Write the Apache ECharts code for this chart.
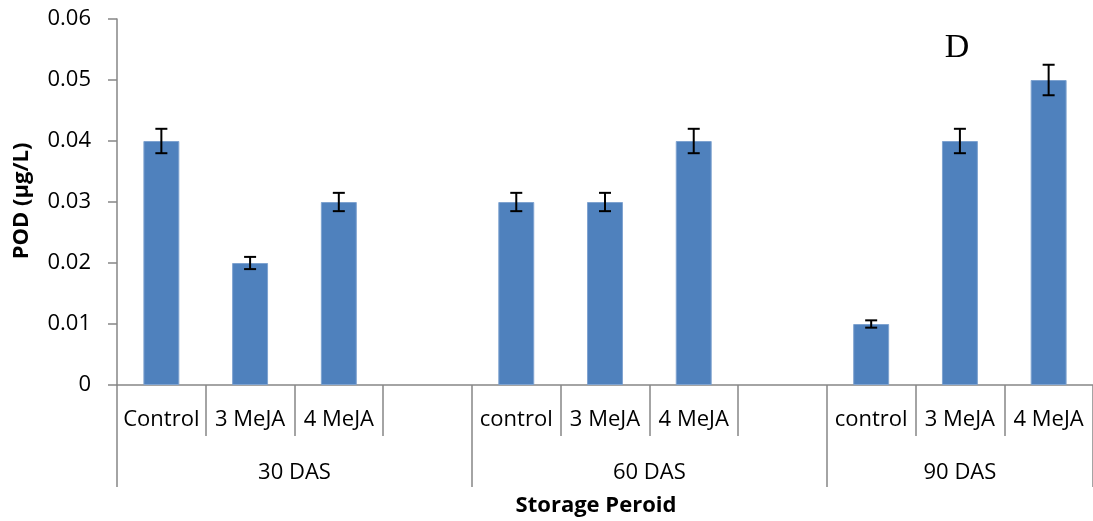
<!DOCTYPE html>
<html>
<head>
<meta charset="utf-8">
<script src="https://cdn.jsdelivr.net/npm/echarts@6/dist/echarts.min.js"></script>
<style>html,body{margin:0;padding:0;background:#fff}#c{width:1093px;height:521px}</style>
</head>
<body>
<div id="c"></div>
<script>
var categories = ['Control', '3 MeJA', '4 MeJA', '', 'control', '3 MeJA', '4 MeJA', '', 'control', '3 MeJA', '4 MeJA'];
var values = [0.04, 0.02, 0.03, null, 0.03, 0.03, 0.04, null, 0.01, 0.04, 0.05];
var errors = [0.002, 0.001, 0.0015, null, 0.0015, 0.0015, 0.002, null, 0.0006, 0.002, 0.0025];
var groups = ['30 DAS', '60 DAS', '90 DAS'];
var groupSpans = [4, 4, 3];
var yTicks = [0, 0.01, 0.02, 0.03, 0.04, 0.05, 0.06];

var groupBounds = [0], groupCenters = [], acc = 0;
groupSpans.forEach(function (s) { groupCenters.push(acc + s / 2); acc += s; groupBounds.push(acc); });

var errData = [];
values.forEach(function (v, i) {
  if (v !== null) errData.push([i, v - errors[i], v + errors[i]]);
});

var FONT = '"Open Sans", sans-serif';
var chart = echarts.init(document.getElementById('c'), null, { renderer: 'canvas' });
chart.setOption({
  animation: false,
  backgroundColor: '#ffffff',
  grid: { left: 117, top: 19, width: 984, height: 366, containLabel: false },
  xAxis: [{
    type: 'category',
    data: categories,
    position: 'bottom',
    axisLine: { show: true, lineStyle: { color: '#868686', width: 1.5 } },
    axisTick: { show: true, interval: 0, length: 51, lineStyle: { color: '#868686', width: 1.5 } },
    axisLabel: { interval: 0, margin: 24, color: '#000', fontSize: 22, fontFamily: FONT },
    splitLine: { show: false }
  }, {
    type: 'value',
    min: 0, max: 11,
    position: 'bottom',
    axisLine: { show: false },
    axisTick: { show: true, customValues: groupBounds, length: 102, lineStyle: { color: '#868686', width: 1.5 } },
    axisLabel: {
      show: true, customValues: groupCenters, margin: 77, color: '#000', fontSize: 22, fontFamily: FONT,
      formatter: function (v) { var i = groupCenters.indexOf(v); return i >= 0 ? groups[i] : ''; }
    },
    splitLine: { show: false }
  }],
  yAxis: {
    type: 'value',
    min: 0, max: 0.06, interval: 0.01,
    axisLine: { show: true, lineStyle: { color: '#868686', width: 1.5 } },
    axisTick: { show: true, length: 9, lineStyle: { color: '#868686', width: 1.5 } },
    axisLabel: {
      margin: 26, color: '#000', fontSize: 22, fontFamily: FONT,
      formatter: function (v) { var best = yTicks.reduce(function (a, b) { return Math.abs(b - v) < Math.abs(a - v) ? b : a; }); return best === 0 ? '0' : best.toFixed(2); }
    },
    splitLine: { show: false }
  },
  series: [{
    type: 'bar',
    data: values,
    barWidth: '40.5%',
    itemStyle: { color: '#4F81BD', borderColor: '#7FA3D0', borderWidth: 1 }
  }, {
    type: 'custom',
    data: errData,
    z: 10,
    renderItem: function (params, api) {
      var x = api.value(0);
      var lo = api.coord([x, api.value(1)]);
      var hi = api.coord([x, api.value(2)]);
      var hw = 6;
      var st = { stroke: '#000', lineWidth: 2 };
      return {
        type: 'group',
        children: [
          { type: 'line', shape: { x1: lo[0], y1: lo[1], x2: hi[0], y2: hi[1] }, style: st },
          { type: 'line', shape: { x1: lo[0] - hw, y1: lo[1], x2: lo[0] + hw, y2: lo[1] }, style: st },
          { type: 'line', shape: { x1: hi[0] - hw, y1: hi[1], x2: hi[0] + hw, y2: hi[1] }, style: st }
        ]
      };
    }
  }],
  graphic: [{
    type: 'text', x: 596, y: 506,
    style: { text: 'Storage Peroid', fill: '#000', font: 'bold 22px ' + FONT, textAlign: 'center', textVerticalAlign: 'middle' }
  }, {
    type: 'text', x: 22, y: 201, rotation: Math.PI / 2,
    style: { text: 'POD (µg/L)', fill: '#000', font: 'bold 22px ' + FONT, textAlign: 'center', textVerticalAlign: 'middle' }
  }, {
    type: 'text', x: 957, y: 48,
    style: { text: 'D', fill: '#000', font: '34px "Liberation Serif", "Times New Roman", serif', textAlign: 'center', textVerticalAlign: 'middle' }
  }]
});
</script>
</body>
</html>
